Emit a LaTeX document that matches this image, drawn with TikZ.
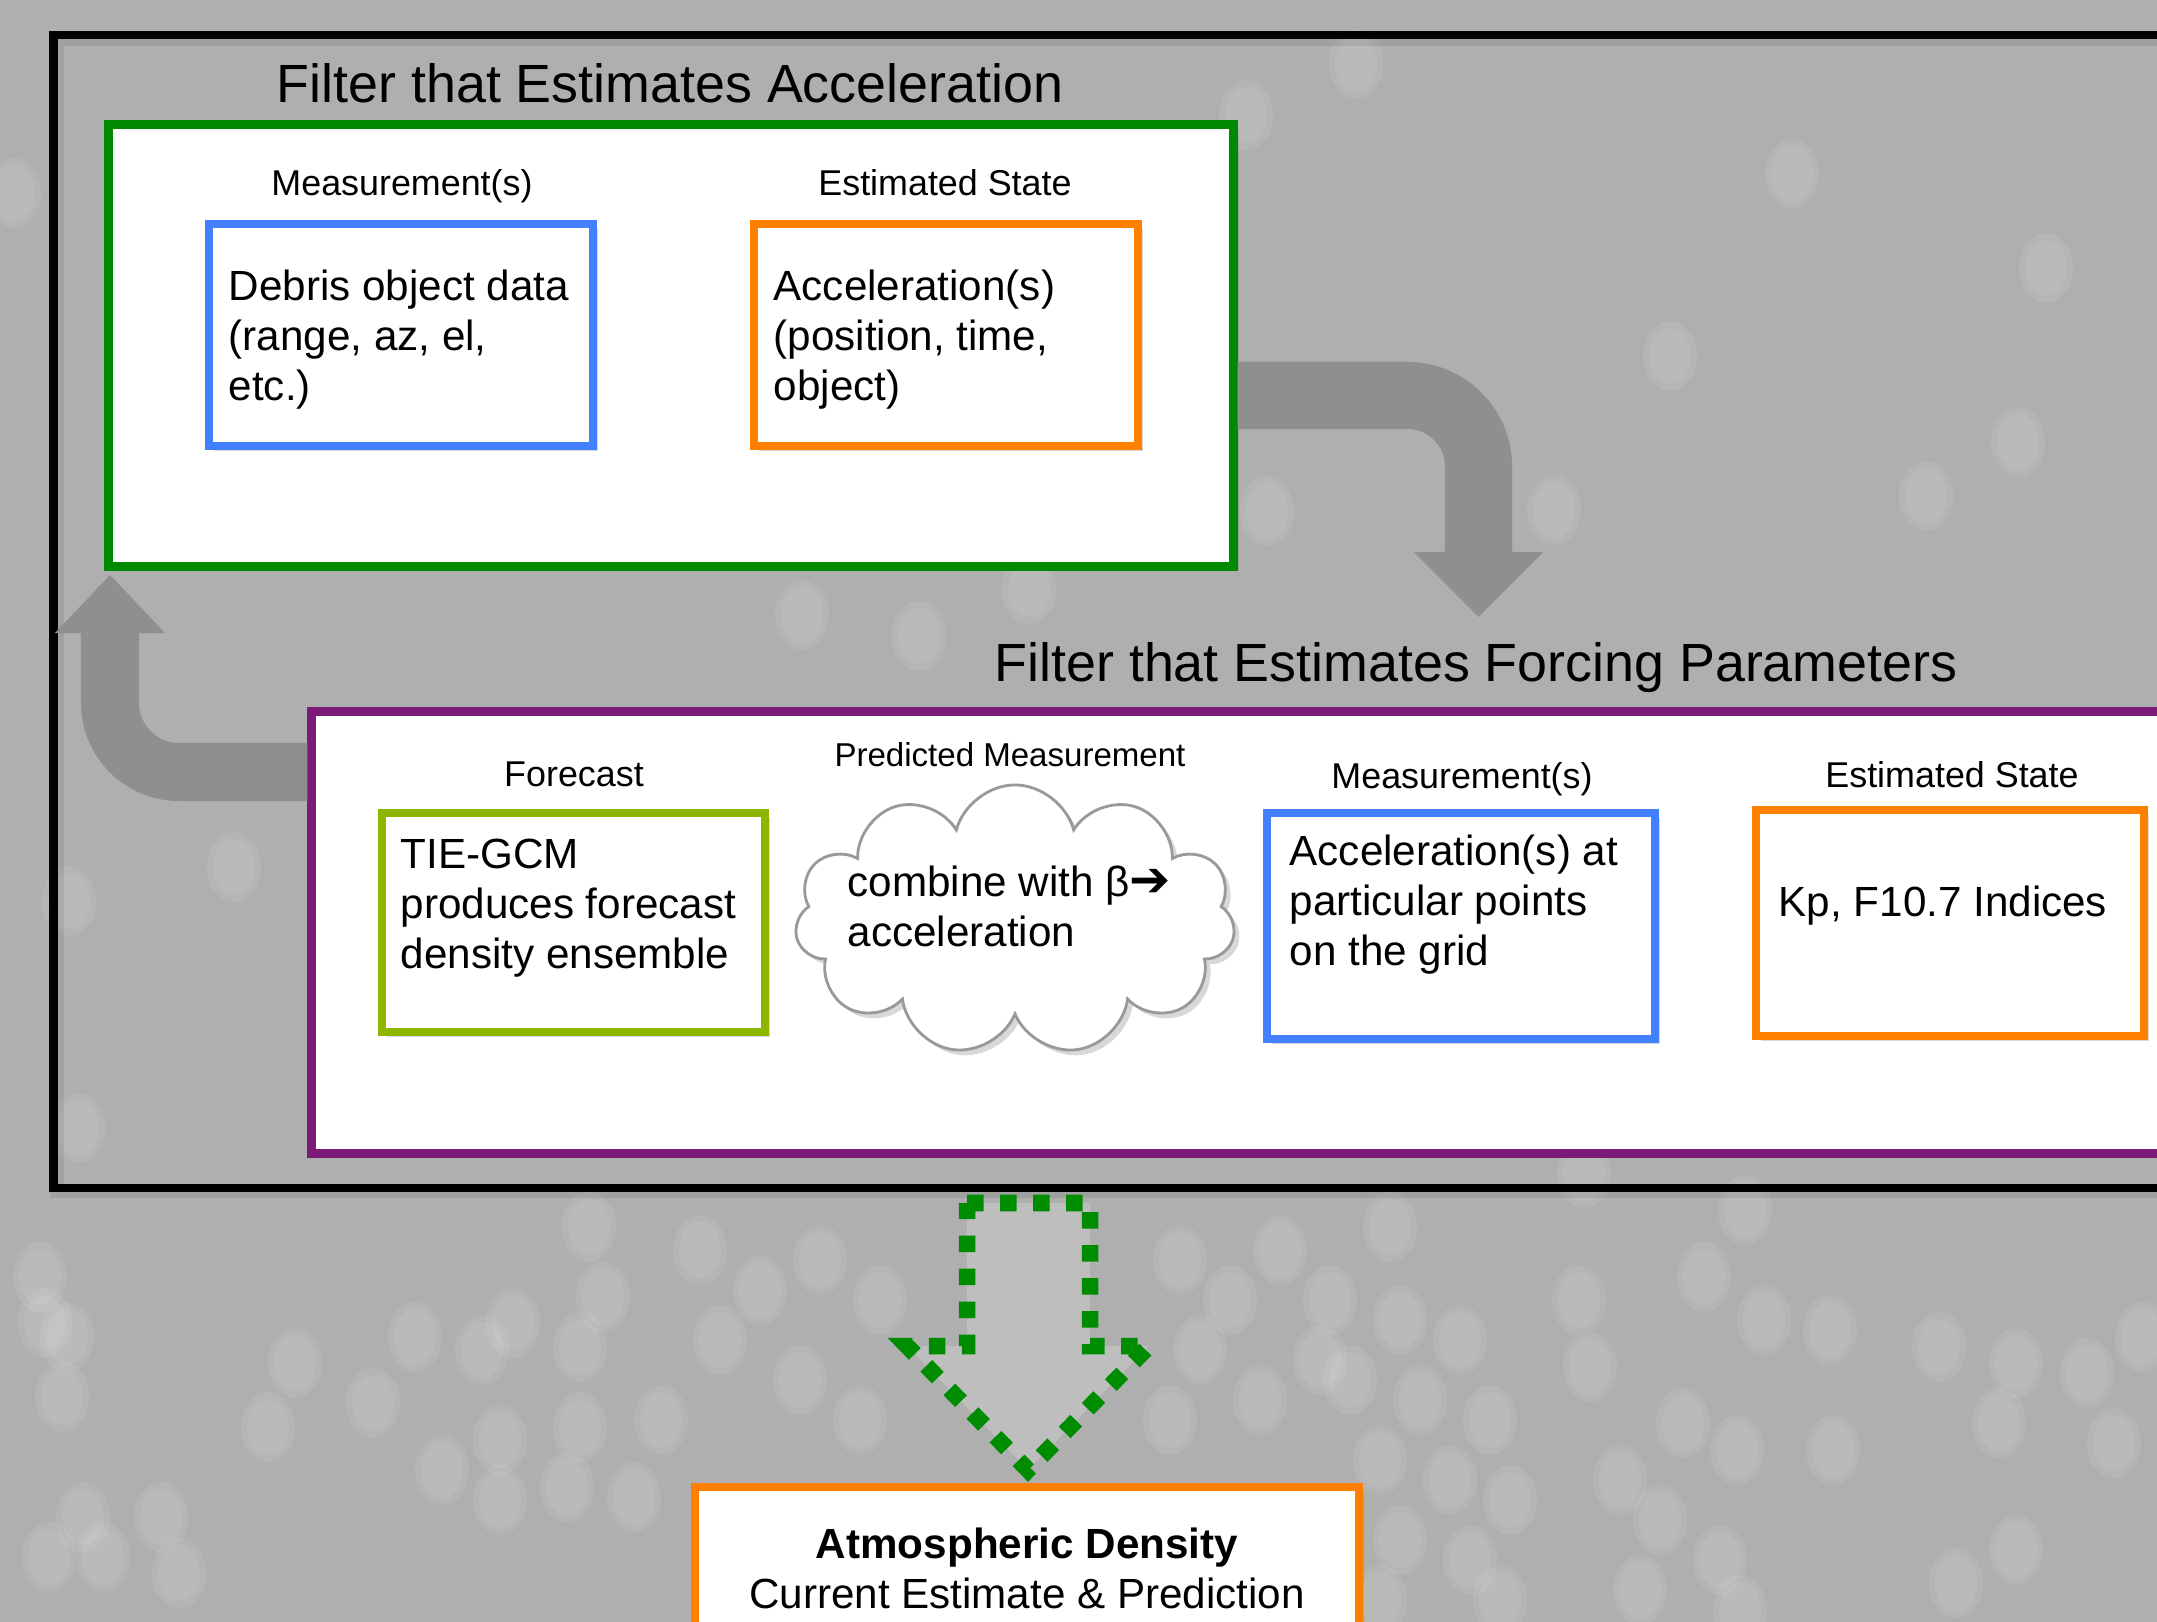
\documentclass[tikz,border=0pt]{standalone}
\usepackage{fontspec}
\setmainfont{Liberation Sans}
\newfontfamily\symfont{DejaVu Sans}
\usepackage{tikz}
\usetikzlibrary{arrows.meta, shapes.symbols, shadows}

\definecolor{fond}{RGB}{175,175,175}
\definecolor{flechegris}{RGB}{143,143,143}
\definecolor{vertcadre}{RGB}{0,138,0}
\definecolor{bleuboite}{RGB}{66,128,255}
\definecolor{orangeboite}{RGB}{255,128,0}
\definecolor{vertclair}{RGB}{141,182,0}
\definecolor{violet}{RGB}{123,26,120}
\definecolor{vertpoint}{RGB}{0,140,0}
\definecolor{grisfleche}{RGB}{190,190,190}

\begin{document}
\begin{tikzpicture}[x=0.01cm, y=-0.01cm,
    titre/.style={font=\fontsize{15.3}{18}\selectfont},
    etiquette/.style={font=\fontsize{10.2}{12}\selectfont},
    texte/.style={font=\fontsize{12}{14.2}\selectfont, align=left, anchor=west, inner sep=0pt},
    ombre/.style={drop shadow={shadow xshift=1.5pt, shadow yshift=-1.5pt, opacity=0.3}},
    boite/.style={draw=#1, line width=2.3pt, fill=white, minimum width=3.84cm, minimum height=2.22cm, ombre},
    cadre/.style={draw=#1, line width=2.5pt, fill=white, ombre},
    bulle/.style={fill=white, opacity=0.08}]

    % Fond gris et bulles floues
    \useasboundingbox (0,0) rectangle (2157,1622);
    \clip (0,0) rectangle (2157,1622);
    \fill[fond] (0,0) rectangle (2157,1622);
    \foreach \bx/\by in {1356/64, 1246/115, 1792/174, 2046/268, 1670/356, 2018/442, 1926/496,
        1554/510, 1267/511, 802/615, 919/636, 1029/589, 234/867, 69/901, 78/1128, 14/193, 1584/1173,
        40/1277, 45/1323, 67/1337, 62/1397, 295/1363, 268/1427, 373/1403, 415/1337, 482/1350,
        513/1323, 589/1227, 603/1297, 580/1347, 442/1470, 500/1440, 500/1500, 580/1427, 661/1420,
        567/1487, 634/1497, 83/1517, 49/1557, 103/1557, 161/1517, 179/1573,
        1390/1227, 1745/1210, 1704/1277, 1764/1320, 1830/1330, 1579/1300, 1590/1367, 1939/1347,
        2016/1363, 2087/1373, 2142/1337, 1999/1423, 2114/1443, 1833/1450, 1683/1423, 1737/1450,
        2016/1550, 1956/1583, 1330/1300, 1400/1320, 1460/1340, 1350/1380, 1420/1400, 1490/1420,
        1380/1460, 1450/1480, 1510/1500, 1400/1540, 1470/1560, 1380/1600, 1500/1600, 1620/1480,
        1660/1520, 1720/1560, 1640/1590, 1740/1610, 700/1250, 760/1290, 820/1260, 880/1300,
        720/1340, 800/1380, 860/1420, 1180/1260, 1230/1300, 1280/1250, 1200/1350, 1260/1400,
        1320/1360, 1170/1420}
    {
        \fill[bulle] (\bx,\by) ellipse [x radius=27, y radius=35];
        \fill[bulle] (\bx,\by) ellipse [x radius=21, y radius=28];
    }

    % Grand cadre noir (avec ombre legere)
    \draw[line width=4pt, black, opacity=0.08] (57,39) rectangle (2300,1191);
    \draw[line width=2.5pt] (53.5,35) rectangle (2300,1188);

    % Premier filtre (acceleration)
    \node[titre] (titre-acc) at (670,83) {Filter that Estimates Acceleration};
    \node[cadre=vertcadre, minimum width=11.24cm, minimum height=4.41cm] (filtre-acc) at (671,345.5) {};
    \node[etiquette] (lbl-mesure) at (402,186) {Measurement(s)};
    \node[boite=bleuboite] (debris) at (401,335) {};
    \node[texte] (debris-txt) at (228,340) {Debris object data\\(range, az, el,\\etc.)};
    \node[etiquette] (lbl-etat) at (945,183) {Estimated State};
    \node[boite=orangeboite] (accel) at (946,335) {};
    \node[texte] (accel-txt) at (773,340) {Acceleration(s)\\(position, time,\\object)};

    % Second filtre (parametres de forcage)
    \node[titre] (titre-forc) at (1476,668) {Filter that Estimates Forcing Parameters};
    \node[cadre=violet, minimum width=19.875cm, minimum height=4.415cm] (filtre-forc) at (1306,932.3) {};
    \node[etiquette] (lbl-prevision) at (574,774) {Forecast};
    \node[boite=vertclair, minimum width=3.83cm, minimum height=2.19cm] (prevision) at (573.5,922.5) {};
    \node[texte] (prevision-txt) at (400,908) {TIE-GCM\\produces forecast\\density ensemble};
    \node[etiquette, font=\fontsize{9.4}{11}\selectfont] (lbl-predite) at (1010,755) {Predicted Measurement};
    \node[cloud, cloud puffs=11, aspect=1.6, draw=gray!80, line width=0.8pt, fill=white,
          minimum width=4.4cm, minimum height=2.7cm, ombre] (nuage) at (1015,920) {};
    \node[texte] (nuage-txt) at (847,906) {combine with β{\symfont\fontsize{14}{14}\selectfont ➔}\\acceleration};
    \node[etiquette] (lbl-mesure2) at (1462,779) {Measurement(s)};
    \node[boite=bleuboite, minimum width=3.88cm, minimum height=2.26cm] (mesure2) at (1461,926) {};
    \node[texte] (mesure2-txt) at (1289,905) {Acceleration(s) at\\particular points\\on the grid};
    \node[etiquette] (lbl-etat2) at (1952,775) {Estimated State};
    \node[boite=orangeboite, minimum width=3.88cm, minimum height=2.26cm] (indices) at (1950,923) {};
    \node[texte] (indices-txt) at (1778,906) {Kp, F10.7 Indices};

    % Fleches grises courbees entre les filtres
    \coordinate (coudeD) at (1478.5,395.5);
    \coordinate (pointeD) at (1478.5,617);
    \draw[line width=0.67cm, flechegris, rounded corners=0.71cm,
          -{Triangle[width=1.29cm, length=0.65cm, line width=0pt]}]
        (filtre-acc.east |- coudeD) -- (coudeD) -- (pointeD);
    \coordinate (coudeG) at (110,772);
    \coordinate (pointeG) at (110,575);
    \draw[line width=0.58cm, flechegris, rounded corners=0.69cm,
          -{Triangle[width=1.10cm, length=0.58cm, line width=0pt]}]
        (filtre-forc.west |- coudeG) -- (coudeG) -- (pointeG);

    % Fleche pointillee vers la densite
    \draw[fill=grisfleche, draw=vertpoint, line width=0.165cm, dash pattern=on 0.165cm off 0.165cm]
        (967,1203) -- (1090,1203) -- (1090,1346) -- (1149,1346) -- (1028,1470)
        -- (907,1346) -- (967,1346) -- cycle;

    % Resultat : densite atmospherique
    \node[boite=orangeboite, minimum width=6.63cm, minimum height=1.63cm, align=center,
          font=\fontsize{12}{14.2}\selectfont] (densite) at (1027,1568.75)
        {\textbf{Atmospheric Density}\\Current Estimate \& Prediction};

\end{tikzpicture}
\end{document}
